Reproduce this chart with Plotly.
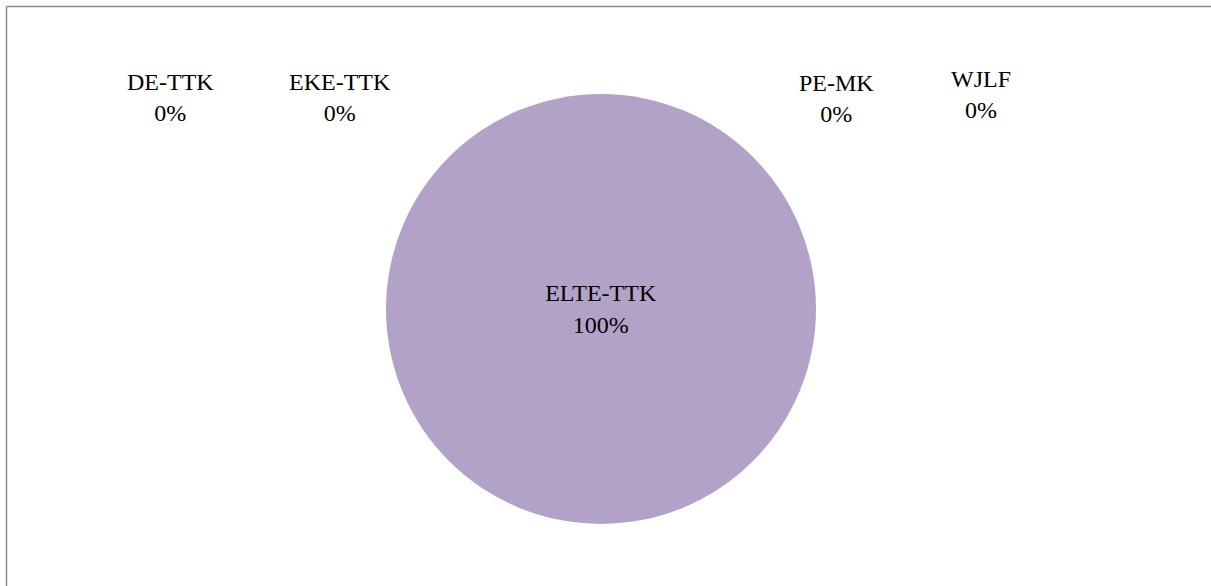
import plotly.graph_objects as go

W, H = 1211, 586

categories = ["DE-TTK", "EKE-TTK", "ELTE-TTK", "PE-MK", "WJLF"]
values = [0, 0, 100, 0, 0]

# label anchor positions for zero-valued slices (pixels: x center, y center)
label_pos = {
    "DE-TTK": (170, 97),
    "EKE-TTK": (340, 97),
    "PE-MK": (836, 98),
    "WJLF": (981, 95),
}

total = sum(values)
font = dict(family="Liberation Serif", size=24, color="black")

fig = go.Figure(go.Pie(
    labels=categories,
    values=values,
    sort=False,
    direction="clockwise",
    marker=dict(colors=["#4F81BD", "#C0504D", "#B3A2C7", "#9BBB59", "#8064A2"],
                line=dict(width=0)),
    texttemplate="%{label}<br>%{percent:.0%}",
    textposition="inside",
    insidetextfont=font,
    hoverinfo="label+percent",
    showlegend=False,
    domain=dict(x=[(601 - 215) / W, (601 + 215) / W],
                y=[(H - 309 - 215) / H, (H - 309 + 215) / H]),
))

annotations = []
for c, v in zip(categories, values):
    if c in label_pos:
        px, py = label_pos[c]
        pct = round(100 * v / total)
        annotations.append(dict(
            x=px / W, y=1 - py / H, xref="paper", yref="paper",
            text=f"{c}<br>{pct}%", showarrow=False, font=font,
            xanchor="center", yanchor="middle", align="center",
        ))

fig.update_layout(
    width=W, height=H,
    margin=dict(l=0, r=0, t=0, b=0),
    paper_bgcolor="white",
    plot_bgcolor="white",
    font=font,
    annotations=annotations,
    shapes=[
        dict(type="line", xref="paper", yref="paper", x0=6.5 / W, x1=1.0, y0=1 - 6.5 / H, y1=1 - 6.5 / H,
             line=dict(color="#8C8C8C", width=1.5)),
        dict(type="line", xref="paper", yref="paper", x0=6.5 / W, x1=6.5 / W, y0=1 - 6.5 / H, y1=0,
             line=dict(color="#8C8C8C", width=1.5)),
    ],
)

fig.write_html("out.html", config={"displayModeBar": False},
               post_script="document.body.style.margin='0';document.body.style.overflow='hidden';")
